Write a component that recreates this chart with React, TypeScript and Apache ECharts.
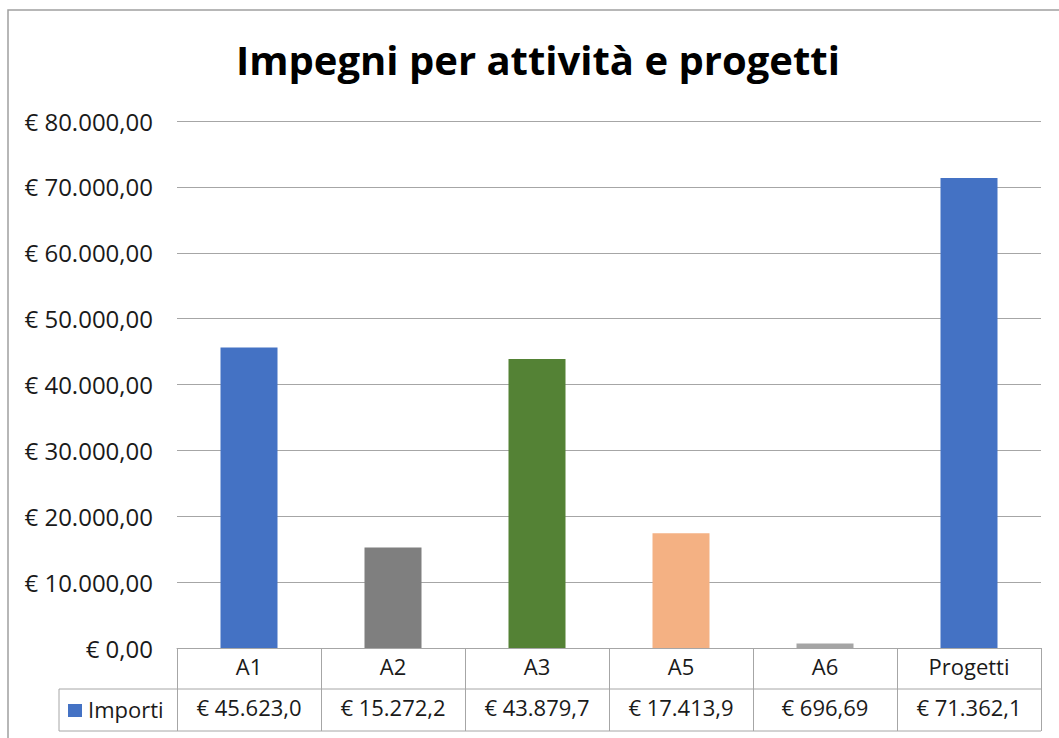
import React, { useEffect, useRef } from "react";
import * as echarts from "echarts";

const categories = ["A1", "A2", "A3", "A5", "A6", "Progetti"];
const values = [45623.0, 15272.2, 43879.7, 17413.9, 696.69, 71362.1];
const barColors = ["#4472C4", "#7F7F7F", "#548235", "#F4B183", "#A5A5A5", "#4472C4"];
const seriesName = "Importi";
const titleText = "Impegni per attività e progetti";

function fmtIt(v: number, dec: number): string {
  const fixed = v.toFixed(dec);
  const [intPart, decPart] = fixed.split(".");
  const withDots = intPart.replace(/\B(?=(\d{3})+(?!\d))/g, ".");
  return decPart !== undefined ? withDots + "," + decPart : withDots;
}
const euro = (v: number) => "€ " + fmtIt(v, 2);
const cellText = (v: number) => euro(v).slice(0, 10);

export default function App() {
  const ref = useRef<HTMLDivElement>(null);
  useEffect(() => {
    if (!ref.current) return;
    const chart = echarts.init(ref.current, null, { renderer: "svg" });
    const font = "Open Sans";
    const gridLeft = 177, gridRight = 1041, gridTop = 121, gridBottom = 648;
    const row1 = 689, row2 = 731, legendLeft = 59;
    const lineColor = "#A6A6A6";
    const textColor = "#1a1a1a";
    chart.setOption({
      animation: false,
      backgroundColor: "#fff",
      title: {
        text: titleText,
        left: 231,
        top: 34,
        textStyle: { fontFamily: font, fontWeight: "bold", fontSize: 40, color: "#000" },
      },
      grid: { left: gridLeft, right: 1059 - gridRight, top: gridTop, bottom: 738 - gridBottom, containLabel: false },
      xAxis: [
        {
          type: "category",
          data: categories,
          axisLine: { lineStyle: { color: lineColor, width: 1 } },
          axisTick: { show: true, length: row2 - gridBottom, lineStyle: { color: lineColor } },
          axisLabel: { margin: 7, fontFamily: font, fontSize: 22, color: textColor },
        },
        {
          type: "category",
          position: "bottom",
          data: values.map(cellText),
          axisLine: { show: false },
          axisTick: { show: false },
          axisLabel: { margin: 48, fontFamily: font, fontSize: 22, color: textColor },
        },
      ],
      yAxis: {
        type: "value",
        min: 0,
        max: 80000,
        interval: 10000,
        axisLine: { show: false },
        axisTick: { show: false },
        splitLine: { lineStyle: { color: lineColor, width: 1 } },
        axisLabel: {
          margin: 24,
          fontFamily: font,
          fontSize: 24,
          color: textColor,
          formatter: (v: number) => euro(v),
        },
      },
      series: [
        {
          name: seriesName,
          type: "bar",
          xAxisIndex: 0,
          barWidth: 57,
          data: values.map((v, i) => ({ value: v, itemStyle: { color: barColors[i] } })),
        },
      ],
      graphic: [
        {
          type: "rect",
          shape: { x: 8, y: 10, width: 1060, height: 740 },
          style: { fill: "none", stroke: "#A0A0A0", lineWidth: 1.5 },
          silent: true,
        },
        {
          type: "line",
          shape: { x1: legendLeft, y1: row1, x2: gridRight, y2: row1 },
          style: { stroke: lineColor, lineWidth: 1 },
        },
        {
          type: "line",
          shape: { x1: legendLeft, y1: row2, x2: gridRight, y2: row2 },
          style: { stroke: lineColor, lineWidth: 1 },
        },
        {
          type: "line",
          shape: { x1: legendLeft, y1: row1, x2: legendLeft, y2: row2 },
          style: { stroke: lineColor, lineWidth: 1 },
        },
        {
          type: "rect",
          shape: { x: 68, y: 704, width: 14, height: 13 },
          style: { fill: barColors[0] },
        },
        {
          type: "text",
          x: 88,
          y: 709,
          style: {
            text: seriesName,
            fontFamily: font,
            fontSize: 22,
            fill: textColor,
            verticalAlign: "middle",
          },
        },
      ],
    });
    return () => chart.dispose();
  }, []);
  return (
    <div
      ref={ref}
      style={{ position: "fixed", left: 0, top: 0, width: 1059, height: 738 }}
    />
  );
}
